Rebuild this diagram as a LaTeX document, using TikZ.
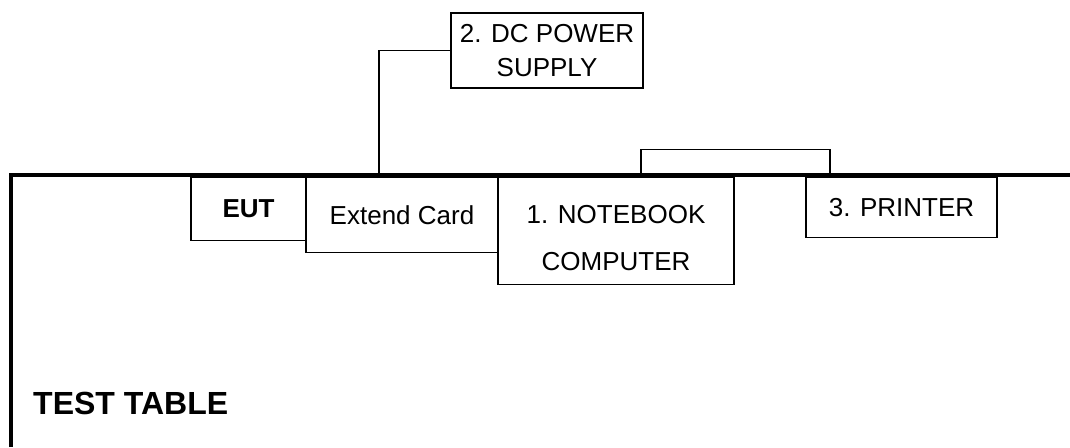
\documentclass[tikz,border=0pt]{standalone}
\usepackage{fontspec}
\setmainfont{Liberation Sans}
\usetikzlibrary{positioning,calc}
\tikzset{box/.style={draw,line width=1.6pt,anchor=north west,align=center,inner sep=0pt,outer sep=0pt,font=\fontsize{26}{31}\selectfont},
  desk/.style={line width=4.5pt,line join=miter},
  cable/.style={line width=1.6pt}}

\begin{document}
\begin{tikzpicture}[x=1pt,y=-1pt]
\useasboundingbox (0,0) rectangle (1070,447);
% test table
\draw[desk] (11,447) -- (11,175) -- (1070,175);
\node[anchor=west,inner sep=0pt,font=\fontsize{32}{36}\selectfont\bfseries] (tbl) at (33,403) {TEST TABLE};
% units on the table
\node[box,minimum width=115pt,minimum height=63pt] (eut) at (191,177.5) {\bfseries EUT};
\node[box,minimum width=192pt,minimum height=75pt] (card) at (eut.north east) {Extend Card};
\node[box,minimum width=236pt,minimum height=107pt] (nb) at (card.north east) {\rule{0pt}{33pt}1. NOTEBOOK\\[16pt]COMPUTER};
\node[box,minimum width=191pt,minimum height=60pt] (prn) at (806,177.5) {3. PRINTER};
\node[box,minimum width=192pt,minimum height=75pt] (dc) at (451,13) {2. DC POWER\\[3pt]SUPPLY};
% cables
\coordinate (pwr) at (379,175);
\coordinate (nbport) at ($(nb.north west)+(143,-2)$);
\coordinate (prnport) at ($(prn.north west)+(24,-2)$);
\draw[cable] (dc.west) -| (pwr);
\draw[cable] (nbport) -- ++(0,-26) -| (prnport);
\end{tikzpicture}
\end{document}
